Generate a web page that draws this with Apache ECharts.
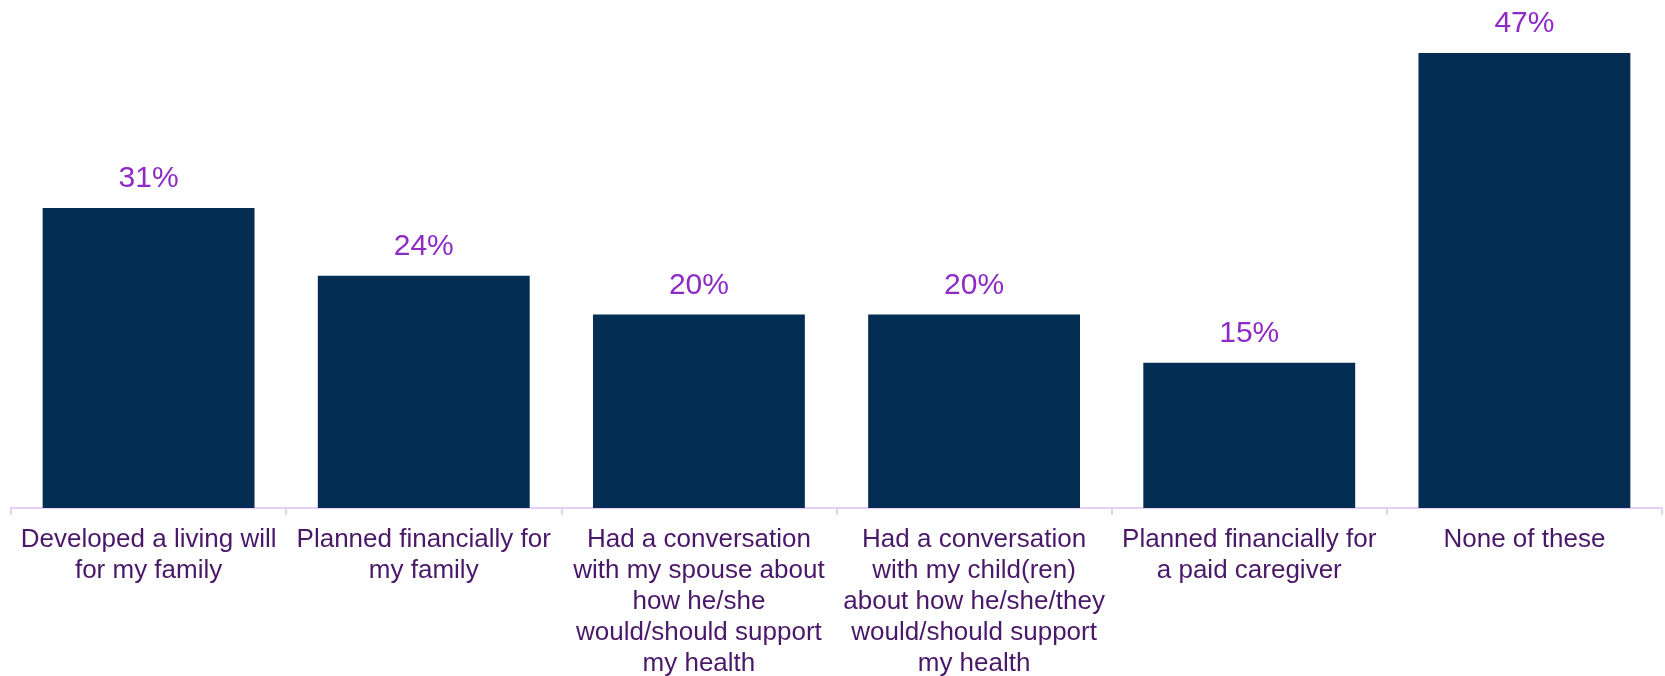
<!DOCTYPE html>
<html>
<head>
<meta charset="utf-8">
<script src="https://cdn.jsdelivr.net/npm/echarts@6/dist/echarts.min.js"></script>
<style>
  html, body { margin: 0; padding: 0; background: #ffffff; }
  #chart { width: 1665px; height: 676px; }
</style>
</head>
<body>
<div id="chart"></div>
<script>
// Actions taken to prepare for future care needs (share of respondents)
const categories = [
  'Developed a living will\nfor my family',
  'Planned financially for\nmy family',
  'Had a conversation\nwith my spouse about\nhow he/she\nwould/should support\nmy health',
  'Had a conversation\nwith my child(ren)\nabout how he/she/they\nwould/should support\nmy health',
  'Planned financially for\na paid caregiver',
  'None of these'
];
const shares = [31, 24, 20, 20, 15, 47];

const FONT = '"Liberation Sans", Arial, sans-serif';

const chart = echarts.init(document.getElementById('chart'), null, { renderer: 'canvas' });
chart.setOption({
  backgroundColor: '#ffffff',
  animation: false,
  grid: {
    left: 11, right: 3, top: 24, bottom: 168,
    containLabel: false,
    outerBoundsMode: 'none'
  },
  xAxis: {
    type: 'category',
    data: categories,
    axisLine: { show: true, lineStyle: { color: '#E8CDF7', width: 2 } },
    axisTick: { show: true, length: 7, lineStyle: { color: '#E8CDF7', width: 2 } },
    axisLabel: {
      interval: 0,
      color: '#4A1868',
      fontFamily: FONT,
      fontSize: 26,
      lineHeight: 31,
      margin: 16,
      align: 'center'
    }
  },
  yAxis: {
    type: 'value',
    min: 0,
    max: 50,
    show: false,
    splitLine: { show: false }
  },
  series: [{
    type: 'bar',
    data: shares,
    barWidth: '77%',
    itemStyle: { color: '#042D53' },
    label: {
      show: true,
      position: 'top',
      distance: 14,
      formatter: '{c}%',
      color: '#8E2BC6',
      fontFamily: FONT,
      fontSize: 30
    }
  }]
});
</script>
</body>
</html>
